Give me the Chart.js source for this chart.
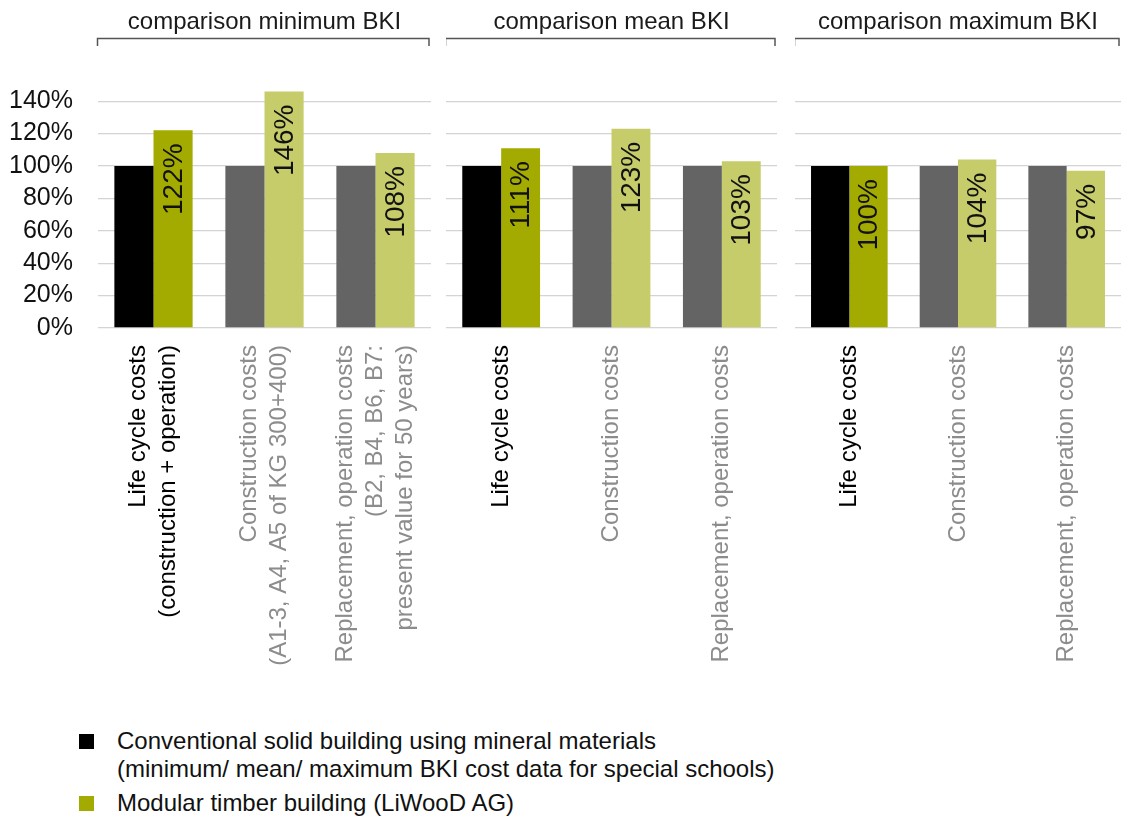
<!DOCTYPE html>
<html>
<head>
<meta charset="utf-8">
<script src="https://cdn.jsdelivr.net/npm/chart.js@4/dist/chart.umd.min.js"></script>
<style>
  body { margin: 0; background: #fff; width: 1121px; height: 823px; overflow: hidden; position: relative;
         font-family: "Liberation Sans", Arial, sans-serif; }
  .panel { position: absolute; top: 0; height: 700px; }
  .legend { position: absolute; left: 79px; font-size: 24px; color: #111; line-height: 28px; }
  .legend .sq { position: absolute; left: 0; top: 7px; width: 15px; height: 15px; }
  .legend .txt { margin-left: 38px; }
</style>
</head>
<body>
<div class="panel" style="left:0; width:431px"><canvas id="js--chart--1"></canvas></div>
<div class="panel" style="left:446px; width:331px"><canvas id="js--chart--2"></canvas></div>
<div class="panel" style="left:795px; width:326px"><canvas id="js--chart--3"></canvas></div>

<div class="legend" style="top:727px"><span class="sq" style="background:#000"></span>
  <div class="txt">Conventional solid building using mineral materials<br>(minimum/ mean/ maximum BKI cost data for special schools)</div></div>
<div class="legend" style="top:789px"><span class="sq" style="background:#a4ab00"></span>
  <div class="txt">Modular timber building (LiWooD AG)</div></div>

<script>
const panelTitles = ["comparison minimum BKI", "comparison mean BKI", "comparison maximum BKI"];

const labelsMin = [
    ["Life cycle costs", "(construction + operation)"],
    ["Construction costs", "(A1-3, A4, A5 of KG 300+400)"],
    ["Replacement, operation costs", "(B2, B4, B6, B7:", "present value for 50 years)"]
];
const labelsShort = [
    ["Life cycle costs"],
    ["Construction costs"],
    ["Replacement, operation costs"]
];

const seriesNames = [
    "Conventional solid building using mineral materials",
    "Modular timber building (LiWooD AG)"
];

// percentages relative to the conventional building
const conventionalMin = [100, 100, 100];
const timberMin = [122, 146, 108];
const conventionalMean = [100, 100, 100];
const timberMean = [111, 123, 103];
const conventionalMax = [100, 100, 100];
const timberMax = [100, 104, 97];

const yTicks = [0, 20, 40, 60, 80, 100, 120, 140];

const FONT = '"Liberation Sans", Arial, sans-serif';
const black = '#000000';
const darkGrey = '#646464';
const olive = '#a4ab00';
const lightOlive = '#c6cc6a';

// title, bracket, rotated values and rotated category names
const panelDecor = {
    id: 'panelDecor',
    afterDraw(chart, args, opts) {
        const ctx = chart.ctx;
        const area = chart.chartArea;
        ctx.save();

        ctx.font = '24px ' + FONT;
        ctx.fillStyle = '#1a1a1a';
        ctx.textAlign = 'center';
        ctx.textBaseline = 'middle';
        ctx.fillText(opts.title, (area.left + area.right) / 2, 22);

        ctx.strokeStyle = '#555';
        ctx.lineWidth = 1.5;
        ctx.beginPath();
        ctx.moveTo(area.left - 0.5, 46);
        ctx.lineTo(area.left - 0.5, 38.5);
        ctx.lineTo(area.right - 2, 38.5);
        ctx.lineTo(area.right - 2, 46);
        ctx.stroke();

        const meta = chart.getDatasetMeta(1);
        const values = chart.data.datasets[1].data;
        ctx.font = '28px ' + FONT;
        ctx.fillStyle = '#111';
        ctx.textAlign = 'right';
        meta.data.forEach(function (bar, i) {
            ctx.save();
            ctx.translate(bar.x + 1, bar.y + 13);
            ctx.rotate(-Math.PI / 2);
            ctx.fillText(values[i] + '%', 0, 0);
            ctx.restore();
        });

        const xs = chart.scales.x;
        ctx.font = '24px ' + FONT;
        opts.labels.forEach(function (lines, i) {
            const x = xs.getPixelForValue(i);
            ctx.fillStyle = i === 0 ? '#000' : '#8c8c8c';
            lines.forEach(function (line, j) {
                ctx.save();
                ctx.translate(x + (j - (lines.length - 1) / 2) * 30, area.bottom + 17);
                ctx.rotate(-Math.PI / 2);
                ctx.fillText(line, 0, 0);
                ctx.restore();
            });
        });
        ctx.restore();
    }
};

function makeConfig(title, labels, conventional, timber, showAxis) {
    return {
        type: 'bar',
        data: {
            labels: labels.map(l => l.join(' ')),
            datasets: [{
                label: seriesNames[0],
                data: conventional,
                backgroundColor: [black, darkGrey, darkGrey]
            }, {
                label: seriesNames[1],
                data: timber,
                backgroundColor: [olive, lightOlive, lightOlive]
            }]
        },
        plugins: [panelDecor],
        options: {
            responsive: true,
            maintainAspectRatio: false,
            animation: false,
            layout: { padding: { top: 85, bottom: 372, left: 0, right: 0 } },
            datasets: { bar: { barPercentage: 1, categoryPercentage: 0.705 } },
            plugins: {
                legend: { display: false },
                tooltip: { enabled: false },
                panelDecor: { title: title, labels: labels }
            },
            scales: {
                x: {
                    grid: { display: false, drawTicks: false },
                    border: { display: false },
                    ticks: { display: false },
                    afterFit: s => { s.height = 0; }
                },
                y: {
                    min: 0,
                    max: 150,
                    afterBuildTicks: s => { s.ticks = yTicks.map(v => ({ value: v })); },
                    grid: { color: '#d4d4d4', lineWidth: 1.3, drawTicks: false },
                    border: { display: false },
                    ticks: {
                        display: showAxis,
                        padding: 25,
                        color: '#111',
                        font: { family: FONT, size: 25 },
                        callback: v => v + '%'
                    },
                    afterFit: s => { s.width = showAxis ? 98 : 0; }
                }
            }
        }
    };
}

new Chart(document.getElementById("js--chart--1"), makeConfig(panelTitles[0], labelsMin, conventionalMin, timberMin, true));
new Chart(document.getElementById("js--chart--2"), makeConfig(panelTitles[1], labelsShort, conventionalMean, timberMean, false));
new Chart(document.getElementById("js--chart--3"), makeConfig(panelTitles[2], labelsShort, conventionalMax, timberMax, false));
</script>
</body>
</html>
